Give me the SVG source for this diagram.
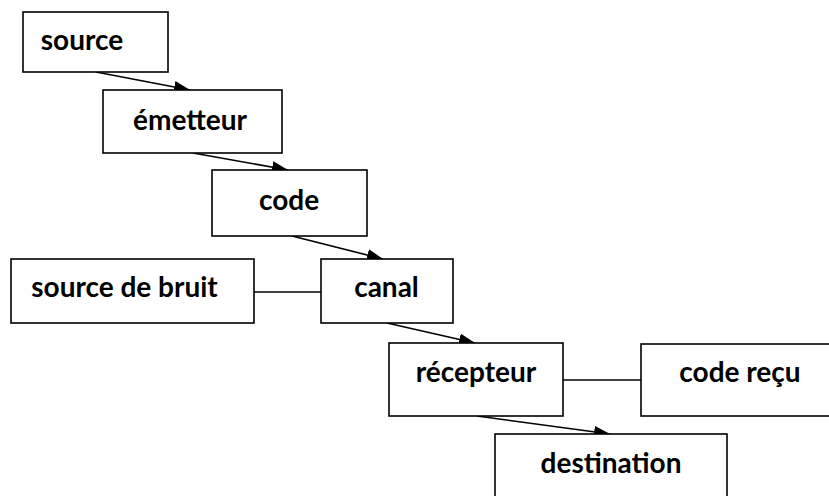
<svg xmlns="http://www.w3.org/2000/svg" width="829" height="496" viewBox="0 0 829 496">
<style>
.box{fill:#fff;stroke:#000;stroke-width:1.6}
.lbl{font-family:Lato,"Liberation Sans",sans-serif;font-weight:bold;font-size:28px;fill:#000;text-anchor:middle}
.edge{stroke:#000;stroke-width:1.6;fill:none}
</style>
<defs>
<marker id="ah" viewBox="0 0 16 12" refX="16" refY="6" markerWidth="16" markerHeight="12" markerUnits="userSpaceOnUse" orient="auto">
<path d="M0,0 L16,6 L0,12 Z" fill="#000"/>
</marker>
</defs>
<g id="connectors">
<line class="edge" x1="96" y1="72" x2="190" y2="90" marker-end="url(#ah)"/>
<line class="edge" x1="193" y1="153" x2="288" y2="170" marker-end="url(#ah)"/>
<line class="edge" x1="292" y1="236" x2="383" y2="259" marker-end="url(#ah)"/>
<line class="edge" x1="254" y1="292" x2="321" y2="292"/>
<line class="edge" x1="387" y1="323" x2="475" y2="343" marker-end="url(#ah)"/>
<line class="edge" x1="563" y1="380" x2="641" y2="380"/>
<line class="edge" x1="477" y1="416" x2="610" y2="434" marker-end="url(#ah)"/>
</g>
<g id="source"><rect class="box" x="23" y="12" width="145" height="60"/><text class="lbl" x="82" y="50">source</text></g>
<g id="emetteur"><rect class="box" x="103" y="90" width="179" height="63"/><text class="lbl" x="190" y="130">émetteur</text></g>
<g id="code"><rect class="box" x="212" y="170" width="155" height="66"/><text class="lbl" x="289" y="210">code</text></g>
<g id="source-de-bruit"><rect class="box" x="11" y="259" width="243" height="64"/><text class="lbl" x="124.5" y="297">source de bruit</text></g>
<g id="canal"><rect class="box" x="321" y="259" width="132" height="64"/><text class="lbl" x="386.5" y="297">canal</text></g>
<g id="recepteur"><rect class="box" x="389" y="343" width="174" height="73"/><text class="lbl" x="476" y="382">récepteur</text></g>
<g id="code-recu"><rect class="box" x="641" y="344" width="200" height="72"/><text class="lbl" x="740" y="382">code reçu</text></g>
<g id="destination"><rect class="box" x="495" y="434" width="232" height="80"/><text class="lbl" x="611" y="473">destination</text></g>
</svg>
